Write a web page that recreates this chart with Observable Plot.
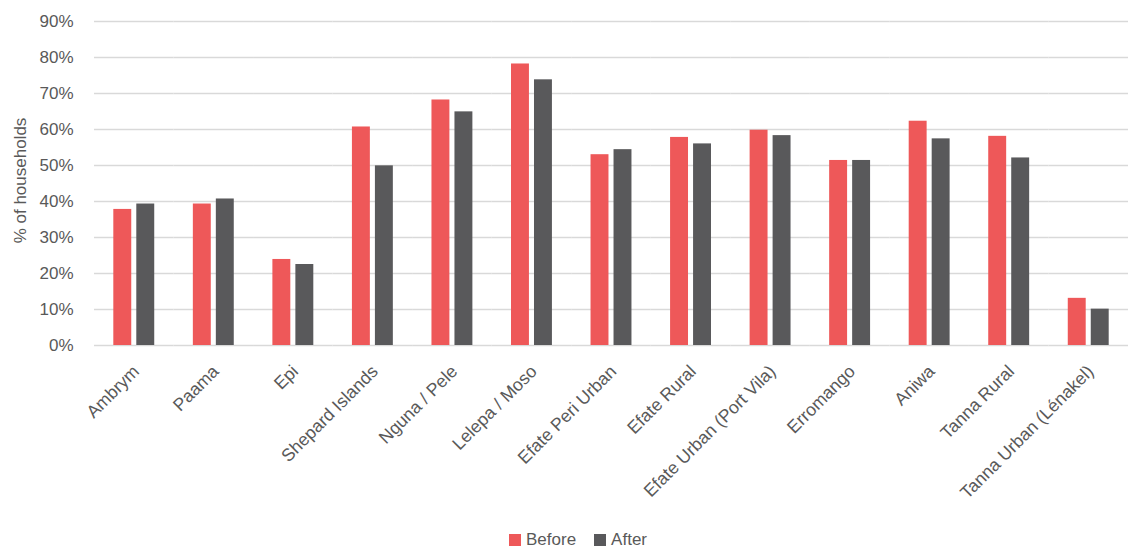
<!DOCTYPE html>
<html>
<head>
<meta charset="utf-8">
<script src="https://cdn.jsdelivr.net/npm/d3@7"></script>
<script src="https://cdn.jsdelivr.net/npm/@observablehq/plot@0.6"></script>
<style>
  html, body { margin: 0; padding: 0; background: #fff; }
  body { width: 1130px; height: 548px; overflow: hidden; font-family: "Liberation Sans", Arial, sans-serif; }
  #legend { display: flex; justify-content: center; gap: 18px; font-size: 17px; color: #595959; margin-top: 12px; padding-left: 26px; }
  #legend span { display: inline-flex; align-items: center; }
  #legend i { display: inline-block; width: 12px; height: 12px; margin-right: 5px; }
</style>
</head>
<body>
<div id="chart"></div>
<div id="legend"></div>
<script>
const categories = ["Ambrym", "Paama", "Epi", "Shepard Islands", "Nguna / Pele", "Lelepa / Moso",
  "Efate Peri Urban", "Efate Rural", "Efate Urban (Port Vila)", "Erromango", "Aniwa", "Tanna Rural",
  "Tanna Urban (Lénakel)"];
const seriesNames = ["Before", "After"];
const before = [0.378, 0.393, 0.239, 0.607, 0.682, 0.782, 0.530, 0.578, 0.598, 0.514, 0.623, 0.581, 0.131];
const after  = [0.393, 0.407, 0.225, 0.499, 0.649, 0.738, 0.544, 0.560, 0.583, 0.514, 0.574, 0.521, 0.101];
const yTicks = [0, 0.1, 0.2, 0.3, 0.4, 0.5, 0.6, 0.7, 0.8, 0.9];
const colors = ["#EE5859", "#59595B"];

const data = [];
categories.forEach((c, i) => {
  data.push({category: c, series: "Before", value: before[i]});
  data.push({category: c, series: "After", value: after[i]});
});

const chart = Plot.plot({
  width: 1130,
  height: 518,
  marginLeft: 94,
  marginRight: 2,
  marginTop: 21,
  marginBottom: 173,
  style: {fontFamily: "'Liberation Sans', Arial, sans-serif", fontSize: "17px", color: "#595959", background: "#fff"},
  fx: {domain: categories, padding: 0, round: false, label: null},
  x: {domain: seriesNames, paddingInner: 0.22, paddingOuter: 0.84, round: false, axis: null},
  y: {domain: [0, 0.9], ticks: yTicks, label: null},
  color: {domain: seriesNames, range: colors},
  marks: [
    Plot.gridY(yTicks, {stroke: "#d9d9d9", strokeOpacity: 1, strokeWidth: 1.5, facetAnchor: null}),
    Plot.axisY(yTicks, {tickSize: 0, tickPadding: 21, tickFormat: d => Math.round(d * 100) + "%", fontSize: 17, fill: "#595959", label: null, anchor: "left"}),
    Plot.barY(data, {fx: "category", x: "series", y: "value", fill: "series"}),
    Plot.axisFx({anchor: "bottom", tickRotate: -45, tickSize: 0, tickPadding: 23, dx: 2, fontSize: 17.7, fill: "#595959", label: null}),
    Plot.text(["% of households"], {frameAnchor: "left", dx: -74, rotate: -90, fontSize: 17, fill: "#595959", facetAnchor: "left", textAnchor: "middle", dy: -3})
  ]
});
document.getElementById("chart").appendChild(chart);

const legend = document.getElementById("legend");
seriesNames.forEach((s, i) => {
  const span = document.createElement("span");
  span.innerHTML = `<i style="background:${colors[i]}"></i>${s}`;
  legend.appendChild(span);
});
</script>
</body>
</html>
